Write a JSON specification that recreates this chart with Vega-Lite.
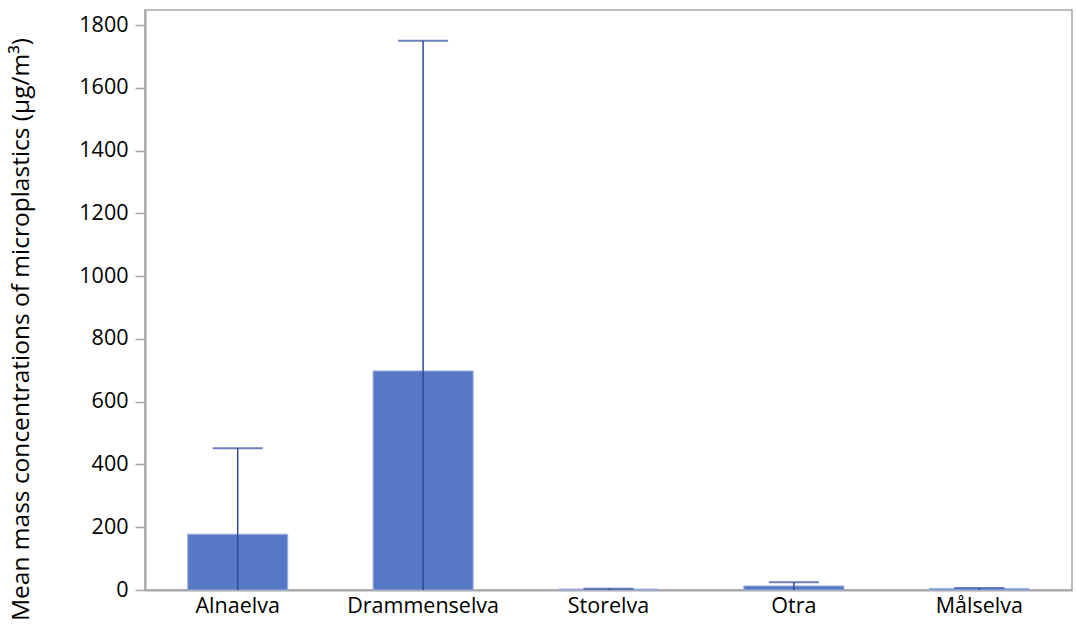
{
  "$schema": "https://vega.github.io/schema/vega-lite/v6.json",
  "width": 927,
  "height": 580,
  "autosize": "none",
  "padding": {"left": 145, "top": 10, "right": 4, "bottom": 46},
  "background": "white",
  "config": {
    "font": "Open Sans",
    "view": {"stroke": "#a6a6a6", "strokeWidth": 1.5}
  },
  "data": {
    "values": [
      {"river": "Alnaelva", "mean": 178, "upper": 452},
      {"river": "Drammenselva", "mean": 698, "upper": 1750},
      {"river": "Storelva", "mean": 3, "upper": 4},
      {"river": "Otra", "mean": 13, "upper": 25},
      {"river": "Målselva", "mean": 5, "upper": 6}
    ]
  },
  "encoding": {
    "x": {
      "field": "river",
      "type": "nominal",
      "sort": null,
      "scale": {"paddingInner": 0.46, "paddingOuter": 0.23},
      "axis": {
        "title": null,
        "labelAngle": 0,
        "labelFontSize": 21.5,
        "labelColor": "#000000",
        "labelPadding": 5,
        "ticks": false,
        "domainColor": "#a6a6a6",
        "domainWidth": 2
      }
    }
  },
  "layer": [
    {
      "mark": {"type": "bar", "color": "#5778c4", "stroke": "#a3b4e0", "strokeWidth": 1},
      "encoding": {
        "y": {
          "field": "mean",
          "type": "quantitative",
          "scale": {"domain": [0, 1848], "nice": false},
          "axis": {
            "title": "Mean mass concentrations of microplastics (μg/m³)",
            "titleFontSize": 24.5,
            "titleFontWeight": "normal",
            "titleColor": "#000000",
            "titleX": -124,
            "titleY": 319,
            "titleBaseline": "middle",
            "titleAngle": -90,
            "values": [0, 100, 200, 300, 400, 500, 600, 700, 800, 900, 1000, 1100, 1200, 1300, 1400, 1500, 1600, 1700, 1800],
            "labelExpr": "datum.value % 200 === 0 ? datum.label : ''",
            "format": "d",
            "labelFontSize": 21.5,
            "labelColor": "#000000",
            "labelPadding": 7,
            "tickSize": 10,
            "tickColor": "#a6a6a6",
            "tickWidth": 1.5,
            "domainColor": "#a6a6a6",
            "domainWidth": 2,
            "grid": false,
            "encode": {
              "ticks": {
                "update": {
                  "x2": {"signal": "datum.value % 200 === 0 ? -10 : -5"}
                }
              }
            }
          }
        }
      }
    },
    {
      "mark": {"type": "rule", "color": "#2f4b9a", "strokeWidth": 1.5},
      "encoding": {
        "y": {"field": "upper", "type": "quantitative"},
        "y2": {"datum": 0}
      }
    },
    {
      "mark": {"type": "tick", "color": "#2f4b9a", "size": 50, "thickness": 2},
      "encoding": {
        "y": {"field": "upper", "type": "quantitative"}
      }
    }
  ]
}
